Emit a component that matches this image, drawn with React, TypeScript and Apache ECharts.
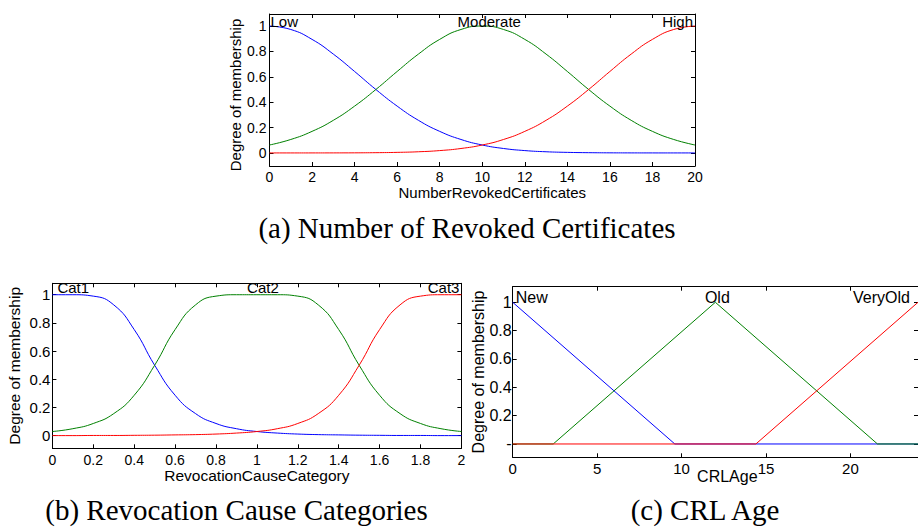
import React, { useEffect, useRef } from 'react';
import * as echarts from 'echarts';

// ---------- (a) Number of Revoked Certificates ----------
const xA = [0, 1, 2, 3, 4, 5, 6, 7, 8, 9, 10, 11, 12, 13, 14, 15, 16, 17, 18, 19, 20];
const lowA = [1, 0.973, 0.895, 0.779, 0.642, 0.5, 0.369, 0.257, 0.17, 0.106, 0.0625, 0.035, 0.0185, 0.0092, 0.0044, 0.002, 0.0008, 0.0003, 0.0001, 0, 0];
const moderateA = [0.0625, 0.106, 0.17, 0.257, 0.369, 0.5, 0.642, 0.779, 0.895, 0.973, 1, 0.973, 0.895, 0.779, 0.642, 0.5, 0.369, 0.257, 0.17, 0.106, 0.0625];
const highA = [0, 0, 0.0001, 0.0003, 0.0008, 0.002, 0.0044, 0.0092, 0.0185, 0.035, 0.0625, 0.106, 0.17, 0.257, 0.369, 0.5, 0.642, 0.779, 0.895, 0.973, 1];
const mfNamesA = ['Low', 'Moderate', 'High'];
const mfPeaksA = [0, 10, 20];
const xTicksA = [0, 2, 4, 6, 8, 10, 12, 14, 16, 18, 20];

// ---------- (b) Revocation Cause Categories ----------
const xB = [0, 0.1, 0.2, 0.3, 0.4, 0.5, 0.6, 0.7, 0.8, 0.9, 1, 1.1, 1.2, 1.3, 1.4, 1.5, 1.6, 1.7, 1.8, 1.9, 2];
const cat1B = [1, 1, 0.99, 0.928, 0.753, 0.5, 0.287, 0.157, 0.087, 0.05, 0.03, 0.019, 0.012, 0.008, 0.006, 0.004, 0.003, 0.002, 0.002, 0.001, 0.001];
const cat2B = [0.03, 0.05, 0.087, 0.157, 0.287, 0.5, 0.753, 0.928, 0.99, 1, 1, 1, 0.99, 0.928, 0.753, 0.5, 0.287, 0.157, 0.087, 0.05, 0.03];
const cat3B = [0.001, 0.001, 0.002, 0.002, 0.003, 0.004, 0.006, 0.008, 0.012, 0.019, 0.03, 0.05, 0.087, 0.157, 0.287, 0.5, 0.753, 0.928, 0.99, 1, 1];
const mfNamesB = ['Cat1', 'Cat2', 'Cat3'];
const mfPeaksB = [0, 1, 2];
const xTicksB = [0, 0.2, 0.4, 0.6, 0.8, 1, 1.2, 1.4, 1.6, 1.8, 2];

// ---------- (c) CRL Age ----------
const newXC = [0, 9.6, 24];
const newYC = [1, 0, 0];
const oldXC = [0, 2.4, 12, 21.6, 24];
const oldYC = [0, 0, 1, 0, 0];
const veryOldXC = [0, 14.4, 24];
const veryOldYC = [0, 0, 1];
const mfNamesC = ['New', 'Old', 'VeryOld'];
const mfPeaksC = [0, 12, 24];
const xTicksC = [0, 5, 10, 15, 20];

const yTicks = [0, 0.2, 0.4, 0.6, 0.8, 1];
const yAxisName = 'Degree of membership';
const captions = ['(a) Number of Revoked Certificates', '(b) Revocation Cause Categories', '(c) CRL Age'];

const SANS = '"Liberation Sans", Arial, sans-serif';
const SERIF = '"Liberation Serif", "Times New Roman", serif';
const COLORS = ['#0000ff', '#008000', '#ff0000'];

const zip = (xs: number[], ys: number[]) => xs.map((x, i) => [x, ys[i]]);

const panels = [
  {
    left: 269.5, top: 14, width: 425.5, height: 152,
    xMin: 0, xMax: 20, yMin: -0.103, yMax: 1.095,
    xTicks: xTicksA, xName: 'NumberRevokedCertificates', xNameGap: 18.5, xNameShift: 20,
    yNameGap: 27, yNameShift: 10, xFont: 14, yFont: 14, nameFont: 15, xMargin: 4, yMargin: 3,
    curves: [zip(xA, lowA), zip(xA, moderateA), zip(xA, highA)], smooth: true,
    mfNames: mfNamesA, mfPeaks: mfPeaksA, mfFont: 15, mfDx: [1, 7, -2], mfDy: -5,
    yZeroDash: false,
  },
  {
    left: 52.4, top: 283.3, width: 409, height: 165,
    xMin: 0, xMax: 2, yMin: -0.089, yMax: 1.081,
    xTicks: xTicksB, xName: 'RevocationCauseCategory', xNameGap: 19.5, xNameShift: 0,
    yNameGap: 30, yNameShift: 0, xFont: 14, yFont: 15, nameFont: 15.5, xMargin: 5, yMargin: 2,
    curves: [zip(xB, cat1B), zip(xB, cat2B), zip(xB, cat3B)], smooth: true,
    mfNames: mfNamesB, mfPeaks: mfPeaksB, mfFont: 15, mfDx: [5, 6, -2], mfDy: -7,
    yZeroDash: false,
  },
  {
    left: 512.7, top: 286.7, width: 412, height: 170.6,
    xMin: 0, xMax: 24, yMin: -0.094, yMax: 1.11,
    xTicks: xTicksC, xName: 'CRLAge', xNameGap: 11, xNameShift: 24,
    yNameGap: 26, yNameShift: 0, xFont: 15, yFont: 16, nameFont: 16, xMargin: 4, yMargin: 1,
    curves: [zip(newXC, newYC), zip(oldXC, oldYC), zip(veryOldXC, veryOldYC)], smooth: false,
    mfNames: mfNamesC, mfPeaks: mfPeaksC, mfFont: 16, mfDx: [3, 2, -8], mfDy: -5,
    yZeroDash: true,
  },
];

function buildOption() {
  const grid: any[] = [];
  const xAxis: any[] = [];
  const yAxis: any[] = [];
  const series: any[] = [];
  const line = { show: true, onZero: false, lineStyle: { color: '#000', width: 1 } };

  panels.forEach((p, i) => {
    grid.push({ left: p.left, top: p.top, width: p.width, height: p.height, show: false });

    const xBase = { type: 'value', gridIndex: i, min: p.xMin, max: p.xMax, axisLine: line, splitLine: { show: false } };
    xAxis.push({
      ...xBase,
      position: 'bottom',
      axisTick: { show: true, inside: true, length: 4, customValues: p.xTicks, lineStyle: { color: '#000' } },
      axisLabel: { show: true, customValues: p.xTicks, color: '#000', fontSize: p.xFont, fontFamily: SANS, margin: p.xMargin },
      name: p.xName,
      nameLocation: 'middle',
      nameGap: p.xNameGap,
      nameMoveOverlap: false,
      nameTextStyle: { color: '#000', fontSize: p.nameFont, fontFamily: SANS, lineHeight: p.nameFont, padding: [0, 0, 0, p.xNameShift] },
    });
    xAxis.push({
      ...xBase,
      position: 'top',
      axisTick: { show: true, inside: true, length: 4, customValues: p.xTicks, lineStyle: { color: '#000' } },
      axisLabel: { show: false },
    });

    const yBase = { type: 'value', gridIndex: i, min: p.yMin, max: p.yMax, axisLine: line, splitLine: { show: false } };
    yAxis.push({
      ...yBase,
      position: 'left',
      axisTick: { show: true, inside: true, length: 4, customValues: yTicks, lineStyle: { color: '#000' } },
      axisLabel: {
        show: true, customValues: yTicks, color: '#000', fontSize: p.yFont, fontFamily: SANS, margin: p.yMargin,
        formatter: (v: number) => (p.yZeroDash && v === 0 ? '-' : String(v)),
      },
      name: yAxisName,
      nameLocation: 'middle',
      nameGap: p.yNameGap,
      nameMoveOverlap: false,
      nameTextStyle: { color: '#000', fontSize: p.nameFont, fontFamily: SANS, padding: [0, p.yNameShift, 0, 0] },
    });
    yAxis.push({
      ...yBase,
      position: 'right',
      axisTick: { show: true, inside: true, length: 4, customValues: yTicks, lineStyle: { color: '#000' } },
      axisLabel: { show: false },
    });

    p.curves.forEach((data, k) => {
      series.push({
        type: 'line',
        xAxisIndex: 2 * i,
        yAxisIndex: 2 * i,
        data,
        smooth: p.smooth,
        showSymbol: false,
        symbol: 'none',
        lineStyle: { color: COLORS[k], width: 1 },
        itemStyle: { color: COLORS[k] },
        silent: true,
        z: 2 + k,
      });
    });

    series.push({
      type: 'scatter',
      xAxisIndex: 2 * i,
      yAxisIndex: 2 * i,
      symbolSize: 1,
      itemStyle: { color: 'transparent' },
      silent: true,
      z: 10,
      label: {
        show: true, position: 'inside', formatter: '{b}', color: '#000', opacity: 1,
        textBorderWidth: 0, textBorderColor: 'transparent',
        fontSize: p.mfFont, fontFamily: SANS, verticalAlign: 'middle',
      },
      data: p.mfNames.map((n, k) => ({
        name: n,
        value: [p.mfPeaks[k], 1],
        label: { align: k === 0 ? 'left' : k === 2 ? 'right' : 'center', offset: [p.mfDx[k], p.mfDy] },
      })),
    });
  });

  const capPos = [[467, 228], [236.5, 510], [705, 510]];
  const graphic = captions.map((t, i) => ({
    type: 'text',
    x: capPos[i][0],
    y: capPos[i][1],
    silent: true,
    style: {
      text: t,
      fill: '#000',
      fontSize: 29,
      fontFamily: SERIF,
      align: 'center',
      verticalAlign: 'middle',
      textAlign: 'center',
      textVerticalAlign: 'middle',
    },
  }));

  return { animation: false, backgroundColor: '#fff', grid, xAxis, yAxis, series, graphic };
}

export default function App() {
  const ref = useRef<HTMLDivElement>(null);
  useEffect(() => {
    if (!ref.current) return;
    const chart = echarts.init(ref.current, undefined, { renderer: 'svg' });
    chart.setOption(buildOption() as any);
    return () => chart.dispose();
  }, []);
  return <div ref={ref} style={{ position: 'fixed', left: 0, top: 0, width: 918, height: 530, background: '#fff' }} />;
}
